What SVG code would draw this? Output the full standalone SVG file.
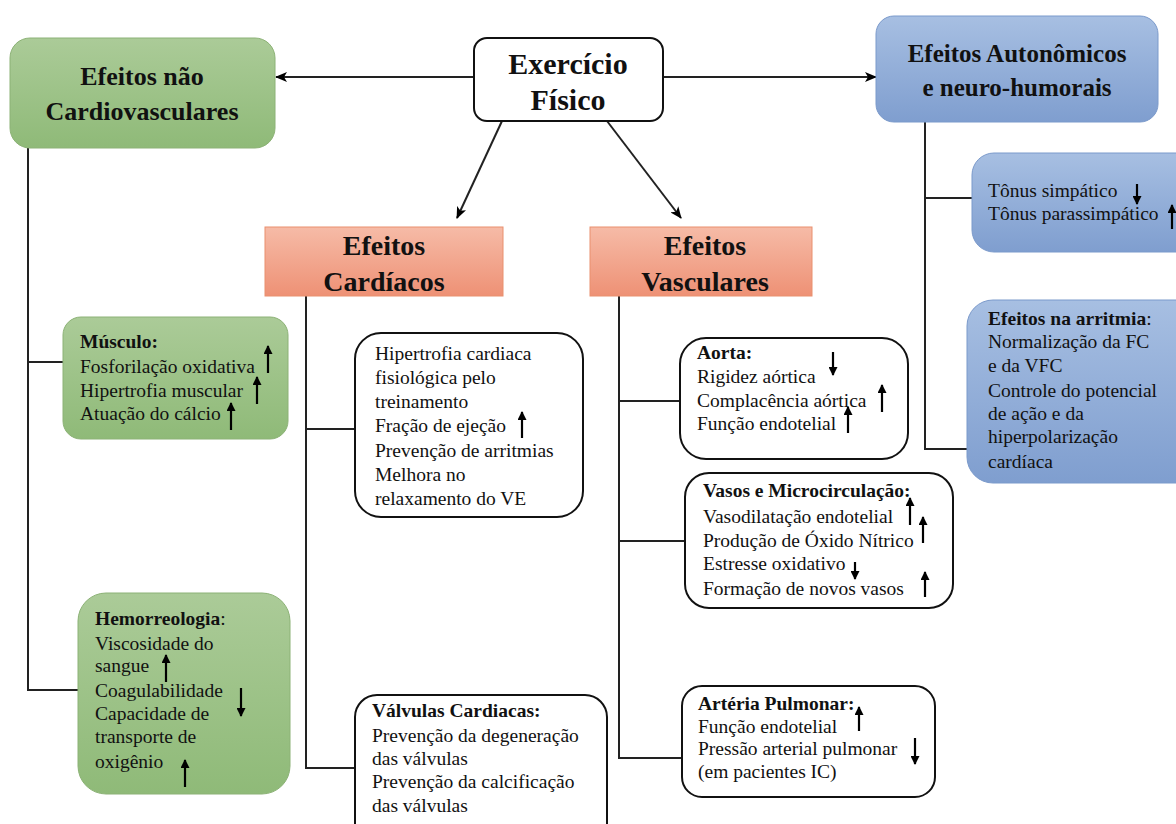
<svg xmlns="http://www.w3.org/2000/svg" width="1176" height="824" viewBox="0 0 1176 824" font-family="'Liberation Serif', 'DejaVu Serif', serif">
<defs>
<linearGradient id="gGreen" x1="0" y1="0" x2="0" y2="1"><stop offset="0" stop-color="#abcb98"/><stop offset="1" stop-color="#8fba78"/></linearGradient>
<linearGradient id="gBlue" x1="0" y1="0" x2="0" y2="1"><stop offset="0" stop-color="#a7bfe2"/><stop offset="1" stop-color="#7f9ecf"/></linearGradient>
<linearGradient id="gSalmon" x1="0" y1="0" x2="0" y2="1"><stop offset="0" stop-color="#f6bba7"/><stop offset="1" stop-color="#ee9175"/></linearGradient>
<marker id="ma" markerUnits="userSpaceOnUse" markerWidth="12" markerHeight="10" refX="11" refY="5" orient="auto"><path d="M0,0 L12,5 L0,10 L3,5 z" fill="#000"/></marker>
<marker id="sa" markerUnits="userSpaceOnUse" markerWidth="9" markerHeight="9" refX="8" refY="4.5" orient="auto"><path d="M0,0 L9,4.5 L0,9 z" fill="#000"/></marker>
</defs>
<style>
text{font-family:'Liberation Serif','DejaVu Serif',serif}
.t{font-size:19.5px;fill:#111}
.b{font-weight:bold}
.h{font-weight:bold;fill:#111;text-anchor:middle}
.green{fill:url(#gGreen);stroke:#8cb276;stroke-width:1}
.blue{fill:url(#gBlue);stroke:#7b9acb;stroke-width:1}
.salmon{fill:url(#gSalmon);stroke:#e9906f;stroke-width:1}
.white{fill:#fff;stroke:#111;stroke-width:2}
.ln{fill:none;stroke:#222;stroke-width:2}
.sar{stroke:#000;stroke-width:2.2;marker-end:url(#sa)}
</style>

<g id="connectors">
<line class="ln" x1="473" y1="77" x2="276" y2="77" marker-end="url(#ma)"/>
<line class="ln" x1="663" y1="77" x2="876" y2="77" marker-end="url(#ma)"/>
<line class="ln" x1="502" y1="121" x2="457" y2="218" marker-end="url(#ma)"/>
<line class="ln" x1="607" y1="121" x2="681" y2="218" marker-end="url(#ma)"/>
<polyline class="ln" points="28,148 28,690 79,690"/>
<line class="ln" x1="28" y1="362" x2="63" y2="362"/>
<polyline class="ln" points="306,296 306,768 355,768"/>
<line class="ln" x1="306" y1="429" x2="355" y2="429"/>
<polyline class="ln" points="619,296 619,758 682,758"/>
<line class="ln" x1="619" y1="401" x2="680" y2="401"/>
<line class="ln" x1="619" y1="541" x2="685" y2="541"/>
<polyline class="ln" points="925,122 925,449 968,449"/>
<line class="ln" x1="925" y1="198" x2="972" y2="198"/>
</g>

<g id="exercicio">
<rect class="white" x="474" y="38" width="189" height="83" rx="13"/>
<text class="h" x="568" y="74" font-size="30">Exercício</text>
<text class="h" x="568" y="110" font-size="30">Físico</text>
</g>

<g id="nao-cardio">
<rect class="green" x="10" y="38" width="265" height="110" rx="20"/>
<text class="h" x="142" y="85" font-size="26">Efeitos não</text>
<text class="h" x="142" y="120" font-size="26">Cardiovasculares</text>
</g>

<g id="autonomicos">
<rect class="blue" x="876" y="16" width="282" height="106" rx="18"/>
<text class="h" x="1017" y="62" font-size="25">Efeitos Autonômicos</text>
<text class="h" x="1017" y="96" font-size="25">e neuro-humorais</text>
</g>

<g id="cardiacos">
<rect class="salmon" x="265" y="227" width="238" height="69"/>
<text class="h" x="384" y="255" font-size="28">Efeitos</text>
<text class="h" x="384" y="291" font-size="28">Cardíacos</text>
</g>

<g id="vasculares">
<rect class="salmon" x="590" y="227" width="222" height="69"/>
<text class="h" x="705" y="255" font-size="28">Efeitos</text>
<text class="h" x="705" y="291" font-size="28">Vasculares</text>
</g>

<g id="musculo">
<rect class="green" x="63" y="317" width="225" height="122" rx="18"/>
<text class="t" x="80" y="348"><tspan class="b">Músculo:</tspan></text>
<text class="t" x="80" y="373">Fosforilação oxidativa</text>
<text class="t" x="80" y="397">Hipertrofia muscular</text>
<text class="t" x="80" y="420">Atuação do cálcio</text>
<line class="sar" x1="268" y1="373" x2="268" y2="346"/>
<line class="sar" x1="257" y1="404" x2="257" y2="377"/>
<line class="sar" x1="231" y1="430" x2="231" y2="403"/>
</g>

<g id="hemorreologia">
<rect class="green" x="78" y="593" width="212" height="201" rx="28"/>
<text class="t" x="95" y="625"><tspan class="b">Hemorreologia</tspan>:</text>
<text class="t" x="95" y="650">Viscosidade do</text>
<text class="t" x="95" y="672">sangue</text>
<text class="t" x="95" y="697">Coagulabilidade</text>
<text class="t" x="95" y="720">Capacidade de</text>
<text class="t" x="95" y="743">transporte de</text>
<text class="t" x="95" y="768">oxigênio</text>
<line class="sar" x1="166" y1="682" x2="166" y2="655"/>
<line class="sar" x1="241" y1="688" x2="241" y2="716"/>
<line class="sar" x1="185" y1="787" x2="185" y2="760"/>
</g>

<g id="hipertrofia">
<rect class="white" x="355" y="333" width="228" height="184" rx="26"/>
<text class="t" x="375" y="360">Hipertrofia cardiaca</text>
<text class="t" x="375" y="384">fisiológica pelo</text>
<text class="t" x="375" y="408">treinamento</text>
<text class="t" x="375" y="432">Fração de ejeção</text>
<text class="t" x="375" y="457">Prevenção de arritmias</text>
<text class="t" x="375" y="481">Melhora no</text>
<text class="t" x="375" y="505">relaxamento  do VE</text>
<line class="sar" x1="522" y1="438" x2="522" y2="412"/>
</g>

<g id="valvulas">
<rect class="white" x="355" y="695" width="252" height="150" rx="22"/>
<text class="t" x="372" y="717"><tspan class="b">Válvulas Cardiacas:</tspan></text>
<text class="t" x="372" y="742">Prevenção da degeneração</text>
<text class="t" x="372" y="765">das válvulas</text>
<text class="t" x="372" y="788">Prevenção da calcificação</text>
<text class="t" x="372" y="812">das válvulas</text>
</g>

<g id="aorta">
<rect class="white" x="680" y="338" width="228" height="121" rx="26"/>
<text class="t" x="697" y="359"><tspan class="b">Aorta:</tspan></text>
<text class="t" x="697" y="383">Rigidez aórtica</text>
<text class="t" x="697" y="407">Complacência aórtica</text>
<text class="t" x="697" y="430">Função endotelial</text>
<line class="sar" x1="833" y1="352" x2="833" y2="375"/>
<line class="sar" x1="882" y1="412" x2="882" y2="385"/>
<line class="sar" x1="848" y1="433" x2="848" y2="407"/>
</g>

<g id="vasos">
<rect class="white" x="685" y="473" width="268" height="135" rx="24"/>
<text class="t" x="703" y="497"><tspan class="b">Vasos e Microcirculação:</tspan></text>
<text class="t" x="703" y="523">Vasodilatação endotelial</text>
<text class="t" x="703" y="547">Produção de Óxido Nítrico</text>
<text class="t" x="703" y="570">Estresse oxidativo</text>
<text class="t" x="703" y="595">Formação de novos vasos</text>
<line class="sar" x1="910" y1="525" x2="910" y2="498"/>
<line class="sar" x1="923" y1="543" x2="923" y2="517"/>
<line class="sar" x1="855" y1="562" x2="855" y2="579"/>
<line class="sar" x1="925" y1="597" x2="925" y2="572"/>
</g>

<g id="arteria">
<rect class="white" x="682" y="686" width="253" height="111" rx="20"/>
<text class="t" x="698" y="710"><tspan class="b">Artéria  Pulmonar:</tspan></text>
<text class="t" x="698" y="733">Função  endotelial</text>
<text class="t" x="698" y="755">Pressão arterial pulmonar</text>
<text class="t" x="698" y="778">(em pacientes IC)</text>
<line class="sar" x1="859" y1="731" x2="859" y2="707"/>
<line class="sar" x1="915" y1="738" x2="915" y2="764"/>
</g>

<g id="tonus">
<rect class="blue" x="972" y="153" width="230" height="99" rx="22"/>
<text class="t" x="988" y="197" font-size="19">Tônus simpático</text>
<text class="t" x="988" y="220" font-size="19">Tônus parassimpático</text>
<line class="sar" x1="1137" y1="184" x2="1137" y2="204"/>
<line class="sar" x1="1172" y1="229" x2="1172" y2="205"/>
</g>

<g id="arritmia">
<rect class="blue" x="967" y="300" width="235" height="183" rx="26"/>
<text class="t" x="988" y="325"><tspan class="b">Efeitos na arritmia</tspan>:</text>
<text class="t" x="988" y="348">Normalização da FC</text>
<text class="t" x="988" y="372">e da VFC</text>
<text class="t" x="988" y="397">Controle do potencial</text>
<text class="t" x="988" y="420">de ação e da</text>
<text class="t" x="988" y="443">hiperpolarização</text>
<text class="t" x="988" y="468">cardíaca</text>
</g>
</svg>
